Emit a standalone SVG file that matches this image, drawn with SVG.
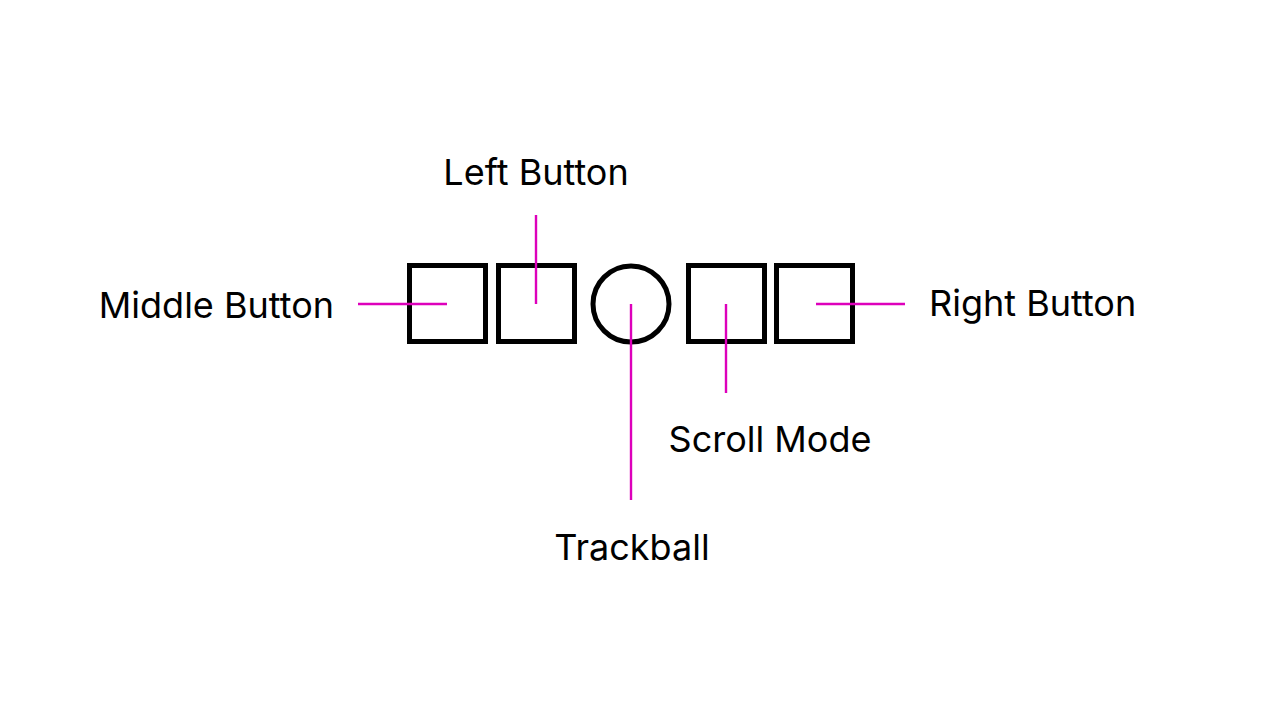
<svg xmlns="http://www.w3.org/2000/svg" width="1280" height="720" viewBox="0 0 1280 720">
<style>
.shape{fill:none;stroke:#000;stroke-width:5}
.lead{stroke:#DD00BB;stroke-width:2.4;fill:none}
.lbl{font-family:Inter,"Liberation Sans",sans-serif;font-size:36px;fill:#000}
</style>
<rect width="1280" height="720" fill="#fff"/>
<g id="middle-button"><rect class="shape" x="409.5" y="265.5" width="76" height="76"/></g>
<g id="left-button"><rect class="shape" x="498.5" y="265.5" width="76" height="76"/></g>
<g id="trackball"><circle class="shape" cx="631" cy="304" r="38"/></g>
<g id="scroll-mode"><rect class="shape" x="688.5" y="265.5" width="76" height="76"/></g>
<g id="right-button"><rect class="shape" x="776.5" y="265.5" width="76" height="76"/></g>
<g id="connectors">
<line class="lead" x1="358" y1="304" x2="447" y2="304"/>
<line class="lead" x1="536" y1="215" x2="536" y2="304"/>
<line class="lead" x1="631" y1="304" x2="631" y2="500"/>
<line class="lead" x1="726" y1="304" x2="726" y2="393"/>
<line class="lead" x1="816" y1="304" x2="905" y2="304"/>
</g>
<g id="labels">
<text class="lbl" x="334" y="318" text-anchor="end">Middle Button</text>
<text class="lbl" x="536" y="185" text-anchor="middle">Left Button</text>
<text class="lbl" x="632" y="560" text-anchor="middle">Trackball</text>
<text class="lbl" x="770" y="452" text-anchor="middle">Scroll Mode</text>
<text class="lbl" x="929" y="316">Right Button</text>
</g>
</svg>
